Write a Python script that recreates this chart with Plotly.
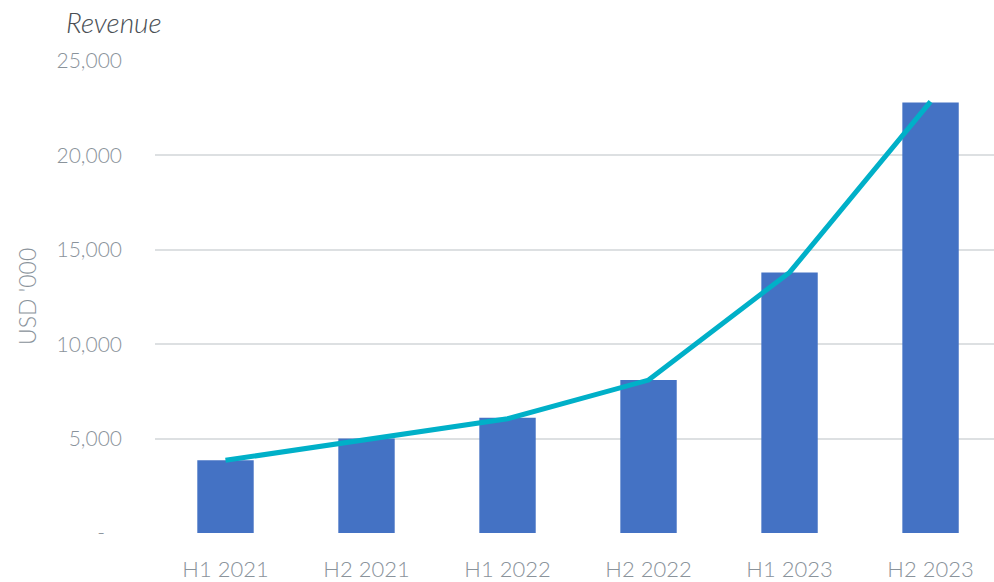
import plotly.graph_objects as go

categories = ["H1 2021", "H2 2021", "H1 2022", "H2 2022", "H1 2023", "H2 2023"]
revenue = [3850, 5000, 6100, 8100, 13800, 22800]
trend = [3850, 4950, 6050, 8100, 13800, 22850]
ytick_vals = [0, 5000, 10000, 15000, 20000, 25000]
ytick_text = ["-\u00a0\u00a0\u00a0", "5,000", "10,000", "15,000", "20,000", "25,000"]

FONT = "Lato"
TICK_COLOR = "#8A939B"

fig = go.Figure()
fig.add_trace(go.Bar(x=categories, y=revenue, marker=dict(color="#4472C4", line=dict(width=0)),
                     width=0.4, showlegend=False))
fig.add_trace(go.Scatter(x=categories, y=trend, mode="lines",
                         line=dict(color="#00B0C8", width=5), showlegend=False))

fig.update_layout(
    width=994, height=582,
    margin=dict(l=155, r=0, t=61, b=49),
    paper_bgcolor="white", plot_bgcolor="white",
    font=dict(family=FONT, color=TICK_COLOR),
    xaxis=dict(type="category", range=[-0.5, 5.45], showgrid=False, zeroline=False,
               showline=False, ticks="", ticklabelstandoff=21,
               tickfont=dict(family=FONT, size=22, color=TICK_COLOR, weight=300)),
    yaxis=dict(range=[0, 25000], tickvals=ytick_vals, ticktext=ytick_text,
               showgrid=True, gridcolor="#DDE0E2", gridwidth=1.5, zeroline=False,
               showline=False, ticks="", ticklabelstandoff=32,
               tickfont=dict(family=FONT, size=21, color=TICK_COLOR, weight=300)),
    annotations=[
        dict(text="Revenue", xref="paper", yref="paper", x=0, y=1, xshift=-91, yshift=39,
             xanchor="left", yanchor="middle", showarrow=False,
             font=dict(family=FONT, size=28, color="#4A4F55", style="italic", weight=300)),
        dict(text="USD '000", xref="paper", yref="paper", x=0, y=0.5, xshift=-128,
             xanchor="center", yanchor="middle", textangle=-90, showarrow=False,
             font=dict(family=FONT, size=23, color=TICK_COLOR, weight=300)),
    ],
)

fig.write_html("out.html")
